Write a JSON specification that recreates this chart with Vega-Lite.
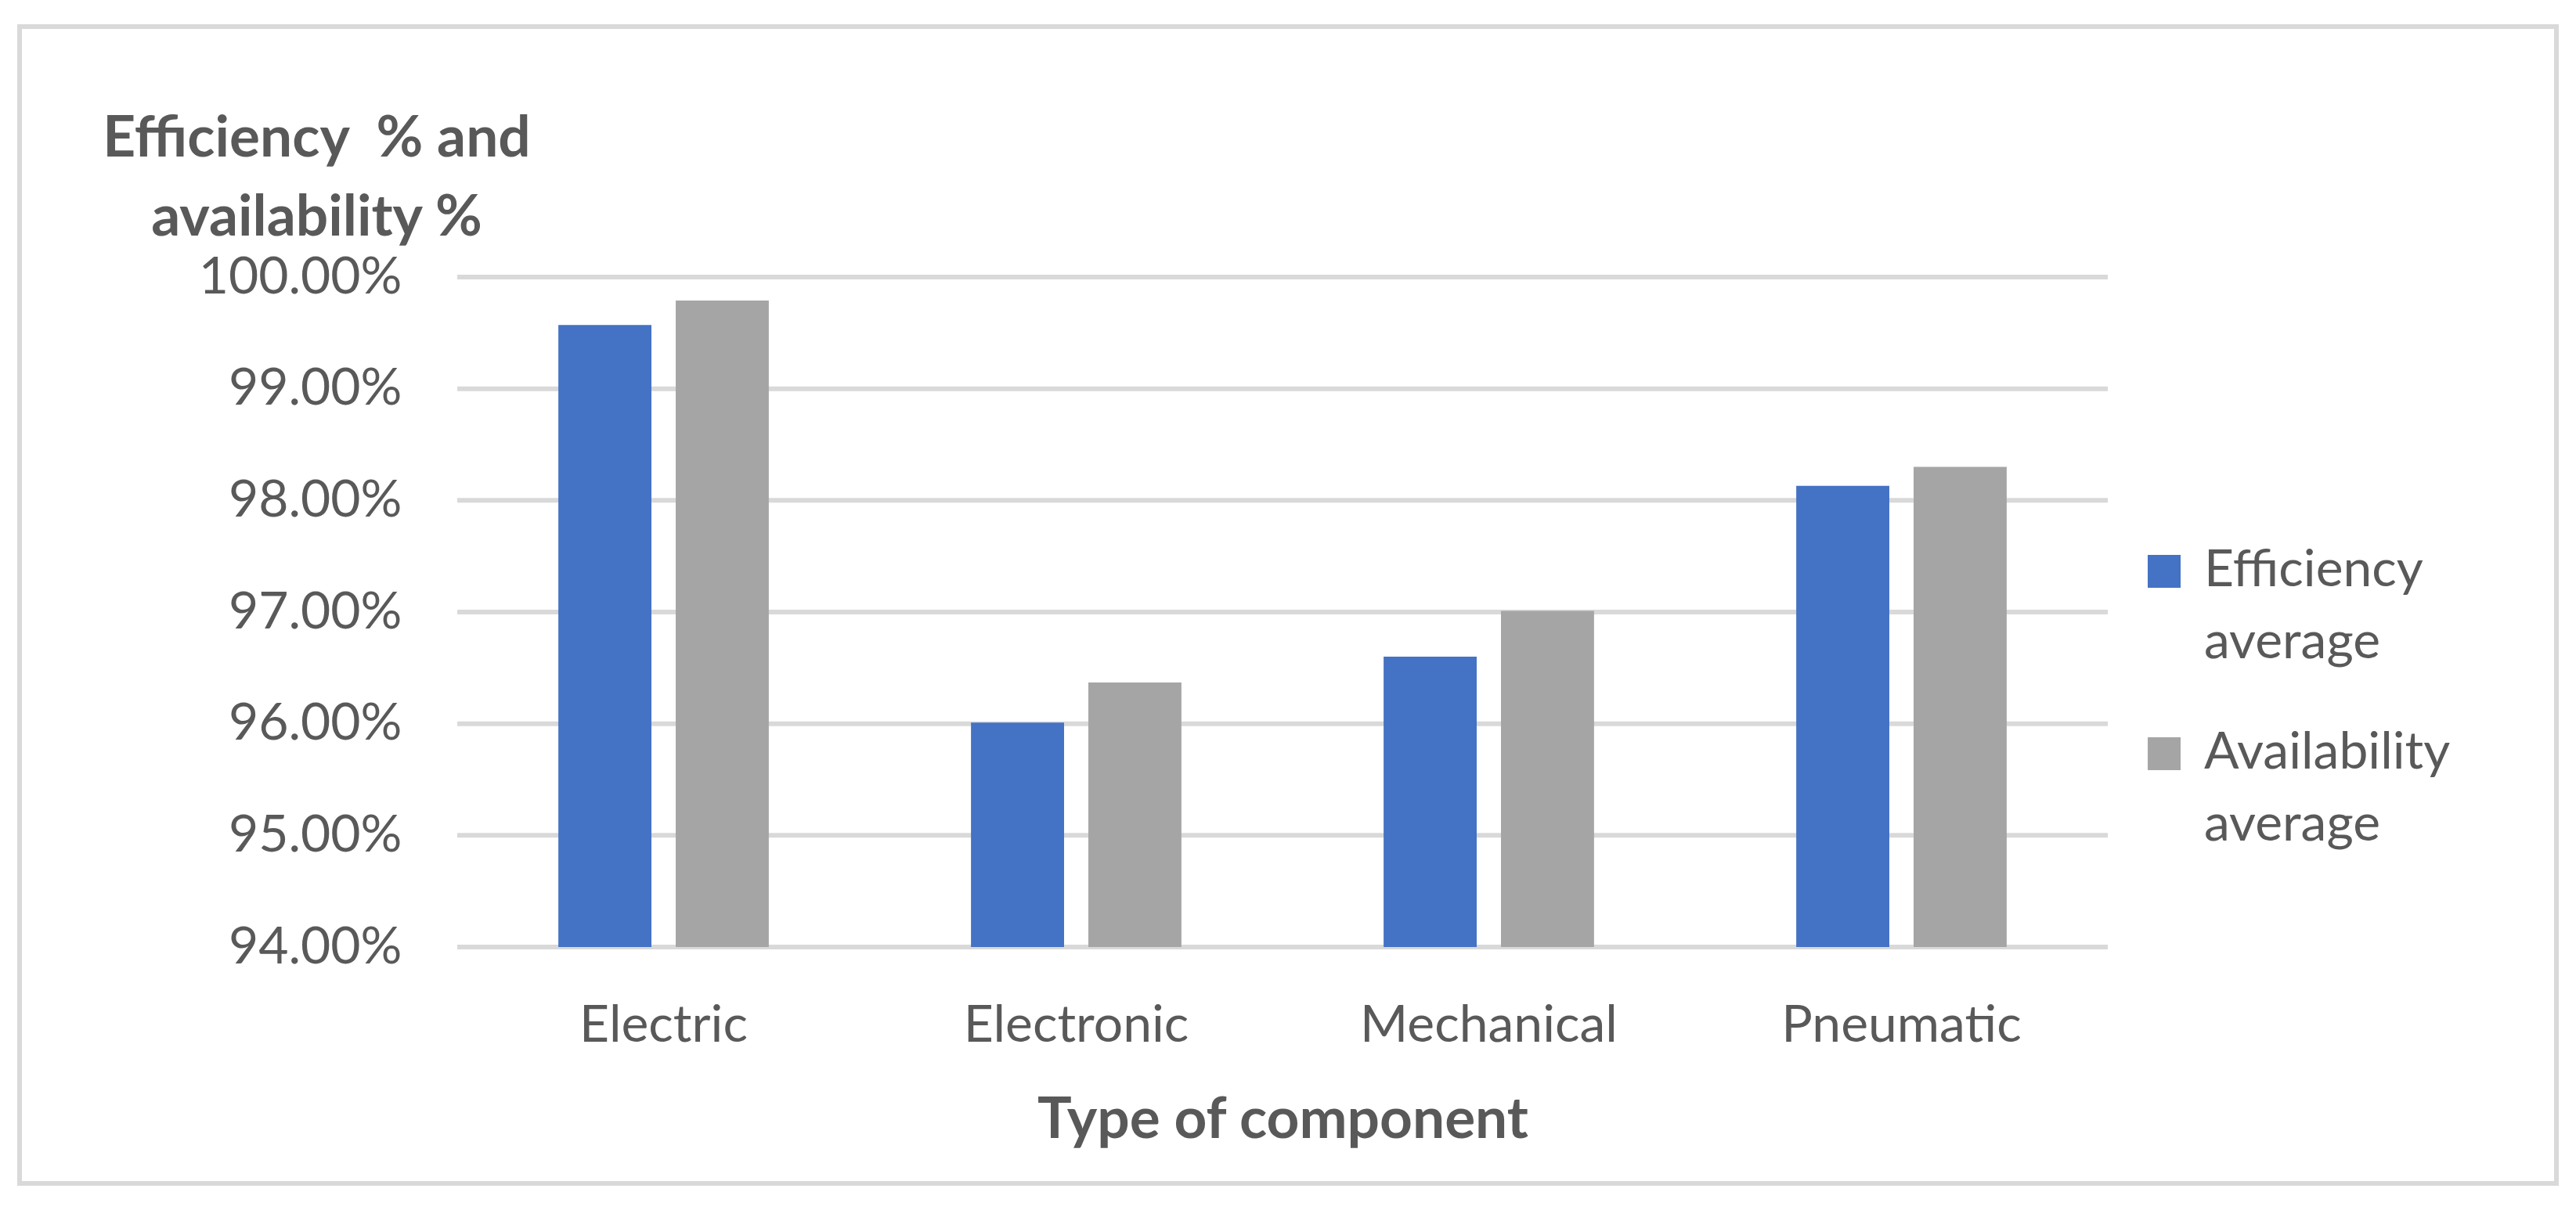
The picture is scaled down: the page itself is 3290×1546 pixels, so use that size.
{
  "$schema": "https://vega.github.io/schema/vega-lite/v6.json",
  "autosize": "none",
  "padding": {"left": 25, "top": 34, "right": 25, "bottom": 34},
  "width": 3240,
  "height": 1478,
  "background": "white",
  "config": {
    "view": {"stroke": "#d9d9d9", "strokeWidth": 6},
    "font": "Lato",
    "style": {"guide-label": {"lineHeight": 92}}
  },
  "datasets": {
    "grid": [{"v": 0.94}, {"v": 0.95}, {"v": 0.96}, {"v": 0.97}, {"v": 0.98}, {"v": 0.99}, {"v": 1.0}],
    "bars": [
      {"type": "Electric", "series": "Efficiency average", "value": 0.9957},
      {"type": "Electric", "series": "Availability average", "value": 0.9979},
      {"type": "Electronic", "series": "Efficiency average", "value": 0.9601},
      {"type": "Electronic", "series": "Availability average", "value": 0.9637},
      {"type": "Mechanical", "series": "Efficiency average", "value": 0.9660},
      {"type": "Mechanical", "series": "Availability average", "value": 0.9701},
      {"type": "Pneumatic", "series": "Efficiency average", "value": 0.9813},
      {"type": "Pneumatic", "series": "Availability average", "value": 0.9830}
    ]
  },
  "layer": [
    {
      "data": {"name": "grid"},
      "mark": {"type": "rule", "color": "#d9d9d9", "strokeWidth": 6},
      "encoding": {
        "x": {"datum": 0, "type": "quantitative", "scale": {"domain": [0, 1], "range": [559, 2667]}, "axis": null},
        "x2": {"datum": 1},
        "y": {"field": "v", "type": "quantitative", "scale": {"domain": [0.94, 1], "range": [1176, 320], "zero": false, "nice": false}, "axis": null}
      }
    },
    {
      "data": {"name": "bars"},
      "mark": {"type": "bar"},
      "encoding": {
        "x": {
          "field": "type", "type": "nominal",
          "sort": ["Electric", "Electronic", "Mechanical", "Pneumatic"],
          "scale": {"range": [559, 2667], "paddingInner": 0.49, "paddingOuter": 0.245},
          "axis": {
            "orient": "bottom", "offset": -302, "domain": false, "ticks": false, "tickSize": 0,
            "labelAngle": 0, "labelFontSize": 66, "labelColor": "#595959", "labelBaseline": "alphabetic", "labelPadding": 120,
            "labelLimit": 0,
            "title": "Type of component", "titleFontSize": 73, "titleFontWeight": "bold", "titleColor": "#595959",
            "titleBaseline": "alphabetic", "titleY": 243
          }
        },
        "xOffset": {
          "field": "series", "type": "nominal",
          "sort": ["Efficiency average", "Availability average"],
          "scale": {"paddingInner": 0.207, "paddingOuter": 0}
        },
        "y": {
          "field": "value", "type": "quantitative",
          "scale": {"domain": [0.94, 1], "range": [1176, 320], "zero": false, "nice": false},
          "axis": {
            "orient": "left", "offset": -488, "values": [0.94, 0.95, 0.96, 0.97, 0.98, 0.99, 1.0], "format": ".2%",
            "domain": false, "ticks": false, "tickSize": 0, "grid": false,
            "labelFontSize": 66, "labelColor": "#595959", "labelPadding": 0, "labelLimit": 0,
            "title": ["Efficiency\u00a0 % and", "availability %"], "titleAngle": 0, "titleAlign": "center",
            "titleBaseline": "alphabetic", "titleX": -109, "titleY": 165, "titleLineHeight": 101,
            "titleFontSize": 73, "titleFontWeight": "bold", "titleColor": "#595959"
          }
        },
        "y2": {"datum": 0.94},
        "color": {
          "field": "series", "type": "nominal",
          "sort": ["Efficiency average", "Availability average"],
          "scale": {"domain": ["Efficiency average", "Availability average"], "range": ["#4472C4", "#A5A5A5"]},
          "legend": {
            "orient": "none", "legendX": 2706, "legendY": 663, "title": null,
            "symbolType": "square", "symbolSize": 1764, "symbolStrokeWidth": 0,
            "labelFontSize": 66, "labelColor": "#595959", "labelOffset": 18, "labelLimit": 0,
            "labelBaseline": "alphabetic", "rowPadding": 75,
            "labelExpr": "split(datum.label, ' ')",
            "encode": {"labels": {"update": {"dy": {"value": 19}}}}
          }
        }
      }
    }
  ],
  "resolve": {"scale": {"x": "independent"}, "axis": {"x": "independent", "y": "independent"}}
}
